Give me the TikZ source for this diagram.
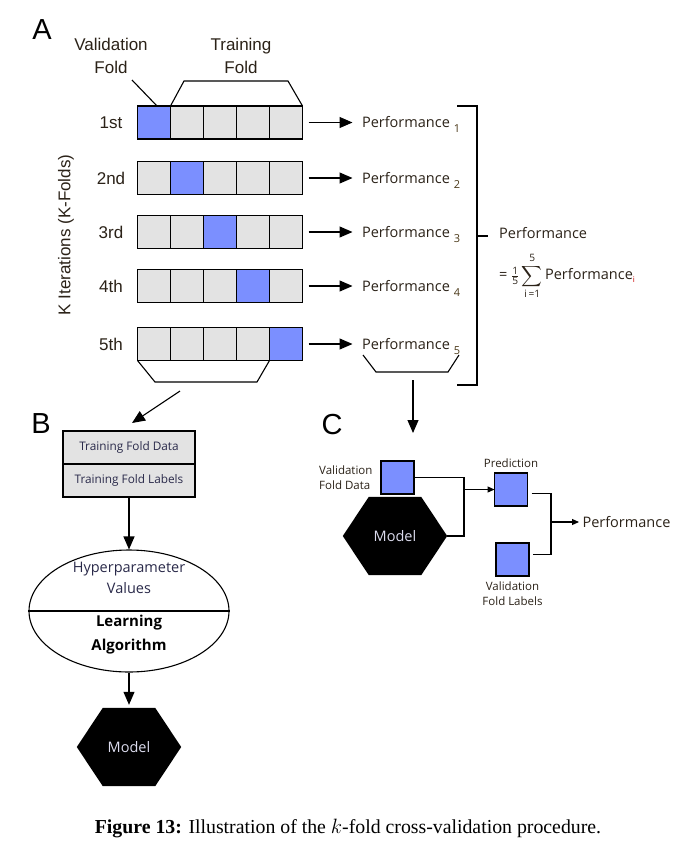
\documentclass[tikz,border=0pt]{standalone}
\usepackage{amsmath}
\usepackage{fontspec}
\setmainfont{Liberation Serif}
\newfontfamily\helv{Liberation Sans}
\newfontfamily\osans{Open Sans}
\usepackage{xcolor}
\usepackage{tikz}
\usetikzlibrary{arrows.meta, positioning, shapes.geometric, backgrounds}

\definecolor{foldblue}{HTML}{7B8FFF}
\definecolor{foldgray}{HTML}{E3E3E3}
\definecolor{txtdark}{HTML}{2B2218}
\definecolor{subcol}{HTML}{4A3818}
\definecolor{modeltxt}{HTML}{DCDCEE}
\definecolor{navy}{HTML}{2A2A4A}

\newcommand{\psub}[1]{\hspace{4pt}\raisebox{-5pt}[0pt][0pt]{\fontsize{11}{11}\selectfont\color{subcol}#1}}

\begin{document}
\begin{tikzpicture}[
  x=1pt, y=-1pt,
  cell/.style={draw, line width=1.1pt, fill=foldgray, minimum size=33pt, inner sep=0pt, outer sep=0pt},
  valcell/.style={cell, fill=foldblue},
  tbox/.style={cell, minimum width=132pt, font=\osans\fontsize{11.8}{13}\selectfont, text=navy},
  arr/.style={line width=1.1pt, -{Triangle[length=13pt, width=11pt]}},
  arrs/.style={line width=1.1pt, -{Triangle[length=7pt, width=6pt]}},
  conn/.style={line width=1.1pt},
  letter/.style={font=\helv\fontsize{29}{29}\selectfont},
  lab/.style={font=\helv\fontsize{17}{23}\selectfont, align=center, text=txtdark},
  perf/.style={font=\osans\fontsize{14.5}{17}\selectfont, text=txtdark},
  small/.style={font=\osans\fontsize{11.5}{15}\selectfont, text=txtdark},
  modelbox/.style={minimum width=52pt, minimum height=78pt, inner sep=0pt, text=modeltxt, font=\osans\fontsize{14.5}{17}\selectfont}
]
\useasboundingbox (0,0) rectangle (674,849);

% A: the five folds
\node[letter] (lettA) at (42,30) {A};
\node[lab] (vf) at (111,56) {Validation\\Fold};
\node[lab] (tf) at (241,56) {Training\\Fold};
\node[lab, rotate=90] (kit) at (66,235) {K Iterations (K-Folds)};

\foreach \row/\yy/\lbl in {1/122.5/1st, 2/178/2nd, 3/232/3rd, 4/286/4th, 5/344/5th} {
  \node[lab] (l\row) at (111,\yy) {\lbl};
  \foreach \col in {1,...,5} {
    \ifnum\col=\row \def\st{valcell}\else\def\st{cell}\fi
    \node[\st] (c\row\col) at ({121+33*\col},\yy) {};
  }
  \node[perf, right=56pt of c\row5] (p\row) {Performance\psub{\row}};
  \draw[arr] ([xshift=6pt]c\row5.east) -- ([xshift=-6pt]p\row.west);
}

\draw[conn] (132,80) -- (157,106);
\draw[conn] (c12.north west) -- (184,81) -- (288,81) -- (c15.north east);
\draw[conn] (c51.south west) -- (155,382) -- (257,382) -- (c54.south east);

\draw[conn] (457,106) -- (477,106) -- (477,385) -- (457,385);
\draw[conn] (477,236) -- (488,236);
\node[perf, anchor=west, inner sep=0pt] (pavg) at (499,233) {Performance};
\node[perf, anchor=west, inner sep=0pt] (pform) at (499,276) {= $\frac{\text{1}}{\text{5}}\displaystyle\sum_{\text{i\,=1}}^{\text{5}}$\,Performance\raisebox{-3pt}{\fontsize{8}{8}\selectfont\color{red!80!black}i}};

\draw[conn] (363,355) -- (376,372) -- (448,372) -- (459,355);

% B: training
\node[letter] (lettB) at (41,424) {B};
\coordinate (bstart) at (180,391);
\node[tbox] (td) at (129,447.5) {Training Fold Data};
\node[tbox, below=0pt of td] (tl) {Training Fold Labels};
\draw[arr] (bstart) -- ([xshift=3pt,yshift=8pt]td.north);

\node[draw, ellipse, line width=1.1pt, minimum width=200pt, minimum height=122pt, inner sep=0pt] (algo) at (129,611) {};
\draw[conn] (algo.west) -- (algo.east);
\node[font=\osans\fontsize{14.5}{21}\selectfont, text=navy, align=center] (hv) at ([yshift=33.5pt]algo.center) {Hyperparameter\\Values};
\node[font=\osans\bfseries\fontsize{15}{24}\selectfont, align=center] (learn) at ([yshift=-24pt]algo.center) {Learning\\Algorithm};
\draw[arr] (tl.south) -- (algo.north);

\node[modelbox] (mb) at (129,747) {Model};
\draw[arr] (algo.south) -- ([yshift=3pt]mb.north);

% C: evaluation
\node[letter] (lettC) at (332,425) {C};
\coordinate (cs) at (413,380);
\coordinate (ce) at (413,433);
\draw[arr] (cs) -- (ce);

\node[valcell] (vd) at (397.5,477.5) {};
\node[small, left=5pt of vd, align=left] (vdl) {Validation\\Fold Data};
\node[modelbox] (mc) at (395,536) {Model};
\node[valcell] (pred) at (511,489.5) {};
\node[small, above=2pt of pred] (predl) {Prediction};
\node[valcell] (lab) at (512.5,559.5) {};
\node[small, below=2pt of lab, align=center] (labl) {Validation\\Fold Labels};

\coordinate (j1) at ([xshift=50pt]vd.east);
\draw[conn] (vd.east) -- (j1) |- ([xshift=26pt]mc.east);
\draw[arrs] (j1 |- pred.west) -- (pred.west);

\coordinate (j2) at (551,522);
\node[perf, right=28pt of j2] (perfc) {Performance};
\draw[conn] ([xshift=4pt,yshift=-4pt]pred.east) -| (j2) |- ([xshift=4pt,yshift=5pt]lab.east);
\draw[arrs] (j2) -- (perfc.west);

\node[font=\fontsize{19.8}{22}\selectfont] (cap) at (348,828) {\textbf{Figure 13:} Illustration of the $k$-fold cross-validation procedure.};

\begin{scope}[on background layer]
  \fill[white] (0,0) rectangle (674,849);
  \foreach \m in {mb,mc}
    \fill[black] (\m.north west) -- (\m.north east) -- ([xshift=26pt]\m.east) -- (\m.south east) -- (\m.south west) -- ([xshift=-26pt]\m.west) -- cycle;
\end{scope}
\end{tikzpicture}
\end{document}
